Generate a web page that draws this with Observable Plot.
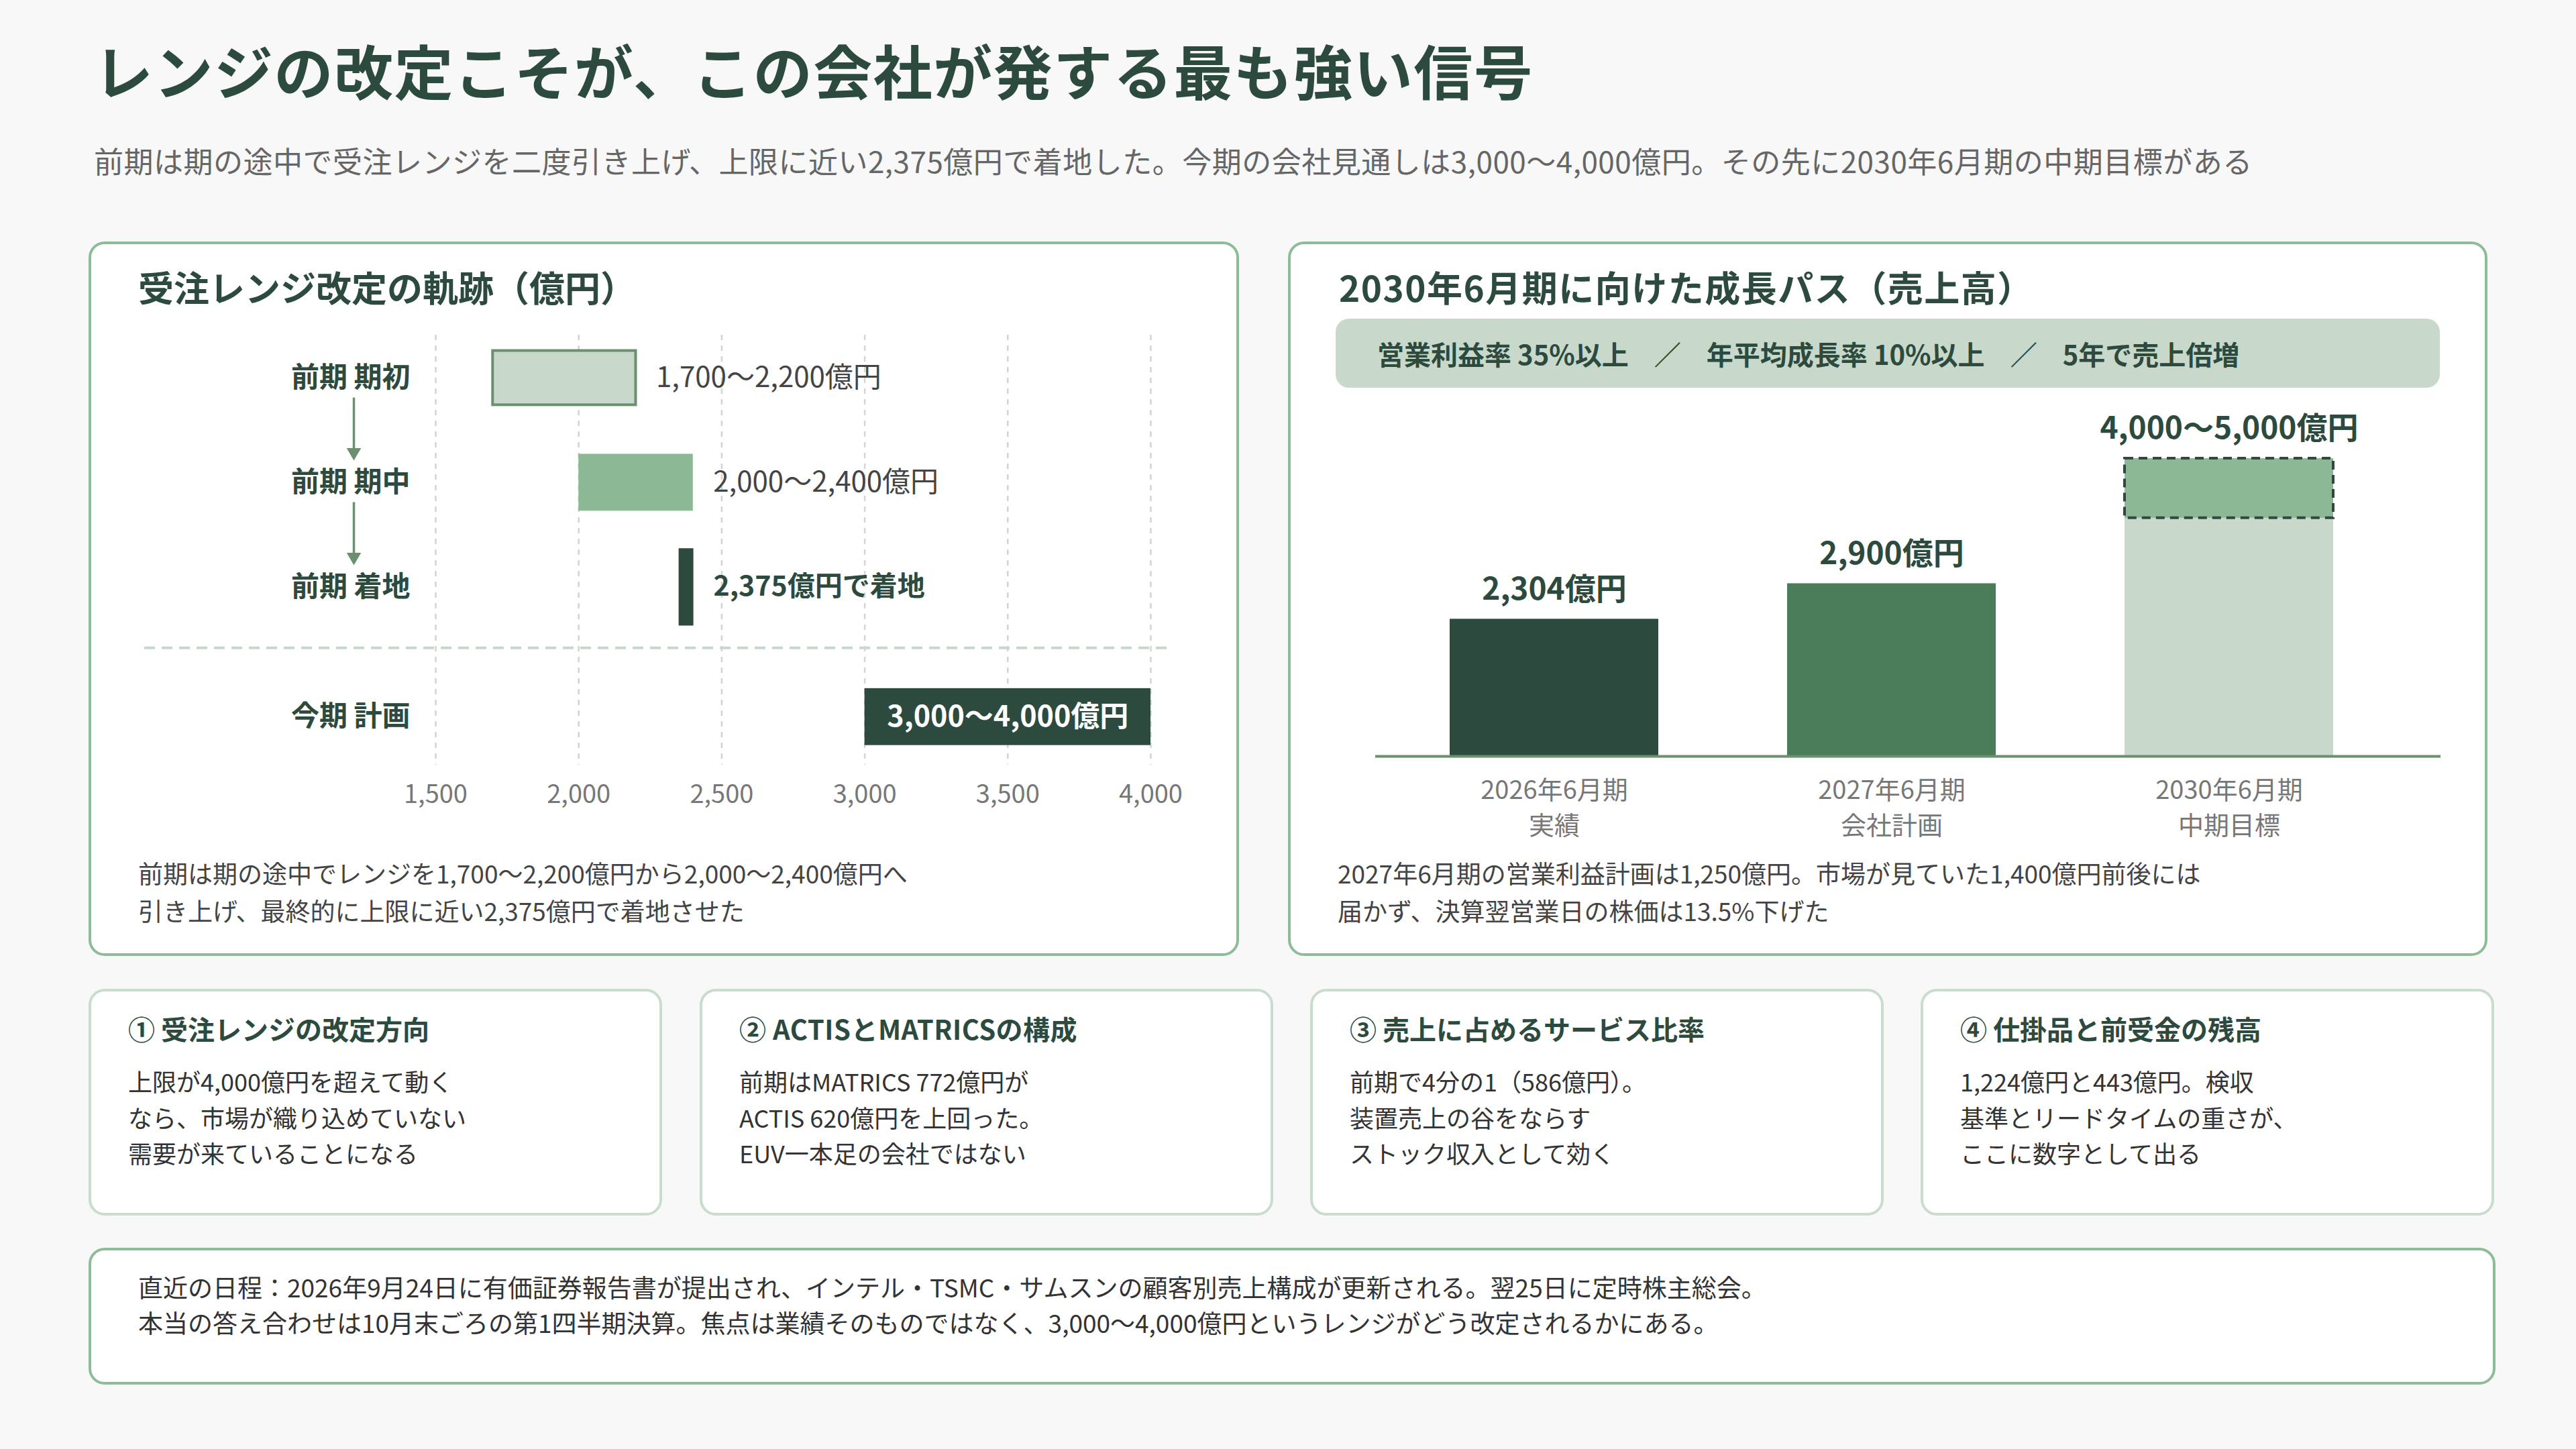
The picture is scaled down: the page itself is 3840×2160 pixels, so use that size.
<!DOCTYPE html>
<html lang="ja">
<head>
<meta charset="utf-8">
<script src="https://cdn.jsdelivr.net/npm/d3@7"></script>
<script src="https://cdn.jsdelivr.net/npm/@observablehq/plot@0.6"></script>
<style>
html,body{margin:0;padding:0;}
body{width:3840px;height:2160px;background:#f7f8f7;position:relative;overflow:hidden;
  font-family:"Noto Sans CJK JP","Noto Sans",sans-serif;color:#2d4a3e;}
.abs{position:absolute;white-space:nowrap;}
.panel{position:absolute;box-sizing:border-box;border:4px solid #8fbc98;border-radius:24px;background:#ffffff;}
.card{position:absolute;box-sizing:border-box;border:4px solid #c9dccd;border-radius:24px;background:#ffffff;top:1474px;width:855px;height:338px;}
.card h3{position:absolute;left:55px;top:35px;margin:0;font-size:40px;line-height:40px;font-weight:700;color:#2d4a3e;white-space:nowrap;}
.card p{position:absolute;left:55px;top:107px;margin:0;font-size:36px;line-height:53.5px;color:#333;white-space:nowrap;}
.ptitle{font-size:53px;line-height:53px;font-weight:700;color:#2d4a3e;}
.note{font-size:37px;line-height:56px;color:#444;}
.banner{position:absolute;left:1991px;top:475px;width:1646px;height:103px;background:#c8d9cb;border-radius:20px;
  display:flex;align-items:center;box-sizing:border-box;padding-left:62px;font-size:40px;font-weight:700;color:#2d4a3e;white-space:nowrap;}
.banner .sep{margin:0 38px;}
</style>
</head>
<body>
<script>
// ---- data: left chart (受注レンジ) ----
const rangeRows = ["前期 期初", "前期 期中", "前期 着地", "今期 計画"];
const rangeLow = [1700, 2000, 2375, 3000];
const rangeHigh = [2200, 2400, 2375, 4000];
const rangeLabels = ["1,700〜2,200億円", "2,000〜2,400億円", "2,375億円で着地", "3,000〜4,000億円"];
const rangeTicks = [1500, 2000, 2500, 3000, 3500, 4000];

// ---- data: right chart (売上高) ----
const periods = ["2026年6月期\n実績", "2027年6月期\n会社計画", "2030年6月期\n中期目標"];
const salesLow = [2304, 2900, 4000];
const salesHigh = [2304, 2900, 5000];
const salesLabels = ["2,304億円", "2,900億円", "4,000〜5,000億円"];
</script>

<div class="abs" style="left:140px;top:59px;font-size:88px;line-height:88px;font-weight:700;color:#2d4a3e;letter-spacing:1.5px;">レンジの改定こそが、この会社が発する最も強い信号</div>
<div class="abs" style="left:140px;top:217px;font-size:44px;line-height:44px;color:#666;letter-spacing:0.5px;">前期は期の途中で受注レンジを二度引き上げ、上限に近い2,375億円で着地した。今期の会社見通しは3,000〜4,000億円。その先に2030年6月期の中期目標がある</div>

<div class="panel" style="left:132px;top:360px;width:1715px;height:1065px;"></div>
<div class="panel" style="left:1920px;top:360px;width:1788px;height:1065px;"></div>

<div class="abs ptitle" style="left:206px;top:401px;">受注レンジ改定の軌跡（億円）</div>
<div class="abs ptitle" style="left:1996px;top:401px;letter-spacing:1.5px;">2030年6月期に向けた成長パス（売上高）</div>

<div class="banner"><span>営業利益率 35%以上</span><span class="sep">／</span><span>年平均成長率 10%以上</span><span class="sep">／</span><span>5年で売上倍増</span></div>

<div id="chartLeft" class="abs" style="left:200px;top:479px;"></div>
<div id="chartRight" class="abs" style="left:2000px;top:590px;"></div>

<div class="abs note" style="left:206px;top:1273px;">前期は期の途中でレンジを1,700〜2,200億円から2,000〜2,400億円へ<br>引き上げ、最終的に上限に近い2,375億円で着地させた</div>
<div class="abs note" style="left:1994px;top:1273px;">2027年6月期の営業利益計画は1,250億円。市場が見ていた1,400億円前後には<br>届かず、決算翌営業日の株価は13.5%下げた</div>

<div class="card" style="left:132px;"><h3>① 受注レンジの改定方向</h3><p>上限が4,000億円を超えて動く<br>なら、市場が織り込めていない<br>需要が来ていることになる</p></div>
<div class="card" style="left:1043px;"><h3 style="letter-spacing:0.5px">② ACTISとMATRICSの構成</h3><p>前期はMATRICS 772億円が<br>ACTIS 620億円を上回った。<br>EUV一本足の会社ではない</p></div>
<div class="card" style="left:1953px;"><h3>③ 売上に占めるサービス比率</h3><p>前期で4分の1（586億円）。<br>装置売上の谷をならす<br>ストック収入として効く</p></div>
<div class="card" style="left:2863px;"><h3>④ 仕掛品と前受金の残高</h3><p>1,224億円と443億円。検収<br>基準とリードタイムの重さが、<br>ここに数字として出る</p></div>

<div class="panel" style="left:132px;top:1860px;width:3588px;height:204px;"></div>
<div class="abs" style="left:206px;top:1892px;font-size:37px;line-height:53px;color:#333;">直近の日程：2026年9月24日に有価証券報告書が提出され、インテル・TSMC・サムスンの顧客別売上構成が更新される。翌25日に定時株主総会。<br>本当の答え合わせは10月末ごろの第1四半期決算。焦点は業績そのものではなく、3,000〜4,000億円というレンジがどう改定されるかにある。</div>

<script>
const DARK = "#2d4a3e", MID = "#8cb896", LIGHT = "#c8d9cb", LINE = "#6b8f6f", GRAY = "#777";
const FONT = "'Noto Sans CJK JP','Noto Sans',sans-serif";

// ---------- Left chart ----------
const rowPos = rangeRows.map((r, i) => i + (r.startsWith("今期") ? 0.24 : 0));
const rows = rangeRows.map((name, i) => ({name, lo: rangeLow[i], hi: rangeHigh[i], label: rangeLabels[i], pos: rowPos[i], i}));
const ranges = rows.filter(d => d.lo < d.hi);
const landing = rows.filter(d => d.lo === d.hi);
const steps = rows.slice(0, 2).map((d, k) => ({from: d.pos, to: rows[k + 1].pos}));
const HALF = 0.272;
const sepY = rowPos[2] + 0.58;

const left = Plot.plot({
  width: 1600, height: 736,
  marginLeft: 449, marginRight: 85, marginTop: 20, marginBottom: 75,
  x: {domain: [rangeTicks[0], rangeTicks[rangeTicks.length - 1]]},
  y: {domain: [-0.41, 3.7], reverse: true, axis: null},
  style: {fontFamily: FONT, fontSize: "38px", color: GRAY, background: "transparent", overflow: "visible"},
  marks: [
    Plot.gridX(rangeTicks, {stroke: "#cdd8cf", strokeOpacity: 1, strokeWidth: 2.5, strokeDasharray: "8,8"}),
    Plot.ruleY([sepY], {stroke: LIGHT, strokeWidth: 4, strokeDasharray: "16,10", insetLeft: -434, insetRight: -32}),
    Plot.rect(ranges.filter(d => d.i === 0), {x1: "lo", x2: "hi", y1: d => d.pos - HALF, y2: d => d.pos + HALF, insetTop: 2, insetBottom: 2, fill: LIGHT, stroke: LINE, strokeWidth: 4}),
    Plot.rect(ranges.filter(d => d.i === 1), {x1: "lo", x2: "hi", y1: d => d.pos - HALF, y2: d => d.pos + HALF, fill: MID}),
    Plot.rect(ranges.filter(d => d.i === 3), {x1: "lo", x2: "hi", y1: d => d.pos - HALF, y2: d => d.pos + HALF, fill: DARK}),
    Plot.ruleX(landing, {x: "lo", y1: d => d.pos - 0.369, y2: d => d.pos + 0.369, stroke: DARK, strokeWidth: 22}),
    // arrows between rows
    Plot.ruleX(steps, {x: () => rangeTicks[0], y1: d => d.from + 0.19, y2: d => d.to - 0.29, stroke: LINE, strokeWidth: 3.5, dx: -122}),
    Plot.dot(steps, {x: () => rangeTicks[0], y: d => d.to - 0.29, symbol: "triangle", r: 8, rotate: 180, fill: LINE, stroke: "none", dx: -122}),
    // row labels
    Plot.text(rows, {y: "pos", text: "name", frameAnchor: "left", textAnchor: "end", dx: -38, fontSize: 42, fontWeight: 700, fill: DARK}),
    // range labels
    Plot.text(ranges.filter(d => d.i !== 3), {x: "hi", y: "pos", text: "label", textAnchor: "start", dx: 30, fontSize: 42, fill: "#444"}),
    Plot.text(landing, {x: "lo", y: "pos", text: "label", textAnchor: "start", dx: 41, fontSize: 41, fontWeight: 700, fill: DARK}),
    Plot.text(ranges.filter(d => d.i === 3), {x: d => (d.lo + d.hi) / 2, y: "pos", text: "label", fontSize: 43, fontWeight: 700, fill: "#ffffff"}),
    Plot.axisX({ticks: rangeTicks, tickFormat: d3.format(","), tickSize: 0, tickPadding: 30, fontSize: 38, fill: GRAY, label: null})
  ]
});
document.getElementById("chartLeft").appendChild(left);

// ---------- Right chart ----------
const sales = periods.map((p, i) => ({p, lo: salesLow[i], hi: salesHigh[i], label: salesLabels[i], i}));
const salesFill = [DARK, "#4a7c59", LIGHT];

const right = Plot.plot({
  width: 1680, height: 677,
  marginLeft: 50, marginRight: 42, marginTop: 93, marginBottom: 140,
  x: {type: "band", domain: periods, paddingInner: 0.381, paddingOuter: 0.266, align: 0.41},
  y: {domain: [0, 5000], axis: null},
  style: {fontFamily: FONT, fontSize: "37px", color: GRAY, background: "transparent", overflow: "visible"},
  marks: [
    Plot.barY(sales, {x: "p", y: "hi", fill: d => salesFill[d.i]}),
    Plot.barY(sales.filter(d => d.lo < d.hi), {x: "p", y1: "lo", y2: "hi", fill: MID, stroke: DARK, strokeWidth: 4, strokeDasharray: "13,8"}),
    Plot.ruleY([0], {stroke: LINE, strokeWidth: 4}),
    Plot.text(sales, {x: "p", y: "hi", text: "label", dy: -44, fontSize: 46, fontWeight: 700, fill: DARK}),
    Plot.axisX({tickSize: 0, tickPadding: 26, fontSize: 38, lineHeight: 1.4, fill: GRAY, label: null})
  ]
});
document.getElementById("chartRight").appendChild(right);
</script>
</body>
</html>
